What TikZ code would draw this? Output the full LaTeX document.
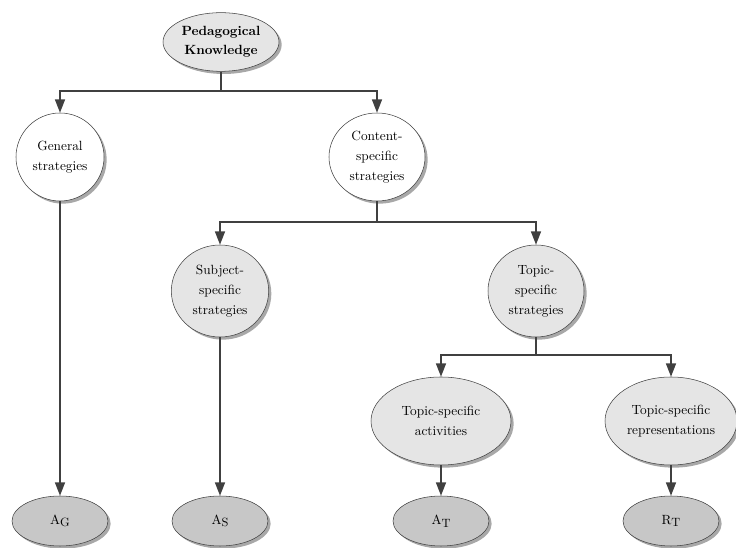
\documentclass[tikz,border=0pt]{standalone}
\usepackage{tikz}
\usetikzlibrary{shapes.geometric,arrows.meta,shadows,positioning}
\definecolor{linegray}{rgb}{0.25,0.25,0.25}
\definecolor{lightfill}{rgb}{0.9,0.9,0.9}
\definecolor{darkfill}{rgb}{0.78,0.78,0.78}
\newcommand{\lowsub}[1]{\raisebox{-0.45ex}{\small #1}}

\begin{document}
\begin{tikzpicture}[x=0.75pt,y=-0.75pt,
                    bubble/.style={ellipse, draw=linegray, thin, inner sep=0pt, align=center,
                        font=\fontsize{10}{15}\selectfont,
                        drop shadow={shadow xshift=2pt, shadow yshift=-2pt, fill=gray!75, opacity=0.9}},
                    link/.style={draw=linegray, line width=1.1pt, -{Triangle[width=7.5pt,length=10pt]}},
                    stem/.style={draw=linegray, line width=1.1pt}]
                \useasboundingbox (0,0) rectangle (736,548);
                \def\rw{72pt}
                \def\rh{37.5pt}
                \node[bubble, fill=lightfill, minimum width=87pt, minimum height=44pt, font=\fontsize{10}{14}\selectfont\bfseries]
                    (pk) at (221,42) {Pedagogical\\Knowledge};
                \node[bubble, fill=white, minimum width=66pt, minimum height=66pt] (gen) at (60,157) {General\\strategies};
                \node[bubble, fill=white, minimum width=72pt, minimum height=66pt] (cont) at (377,157) {Content-\\specific\\strategies};
                \node[bubble, fill=lightfill, minimum width=73pt, minimum height=69pt] (subj) at (220,291) {Subject-\\specific\\strategies};
                \node[bubble, fill=lightfill, minimum width=72pt, minimum height=69pt] (topic) at (536,291) {Topic-\\specific\\strategies};
                \node[bubble, fill=lightfill, minimum width=105pt, minimum height=66pt] (act) at (441,421) {Topic-specific\\activities};
                \node[bubble, fill=lightfill, minimum width=99pt, minimum height=66pt] (rep) at (671,421) {Topic-specific\\representations};
                \node[bubble, fill=darkfill, minimum width=\rw, minimum height=\rh] (ag) at (60,521) {A\lowsub{G}};
                \node[bubble, fill=darkfill, minimum width=\rw, minimum height=\rh] (as) at (220,521) {A\lowsub{S}};
                \node[bubble, fill=darkfill, minimum width=\rw, minimum height=\rh] (at) at (441,521) {A\lowsub{T}};
                \node[bubble, fill=darkfill, minimum width=\rw, minimum height=\rh] (rt) at (671,521) {R\lowsub{T}};
                \coordinate (fork1) at (221,91);
                \coordinate (fork2) at (377,222);
                \coordinate (fork3) at (536,355);
                \draw[stem] (pk.south) -- (fork1);
                \draw[link] (fork1) -| (gen.north);
                \draw[link] (fork1) -| (cont.north);
                \draw[stem] (cont.south) -- (fork2);
                \draw[link] (fork2) -| (subj.north);
                \draw[link] (fork2) -| (topic.north);
                \draw[stem] (topic.south) -- (fork3);
                \draw[link] (fork3) -| (act.north);
                \draw[link] (fork3) -| (rep.north);
                \draw[link] (gen.south) -- (ag.north);
                \draw[link] (subj.south) -- (as.north);
                \draw[link] (act.south) -- (at.north);
                \draw[link] (rep.south) -- (rt.north);
            \end{tikzpicture}
\end{document}
